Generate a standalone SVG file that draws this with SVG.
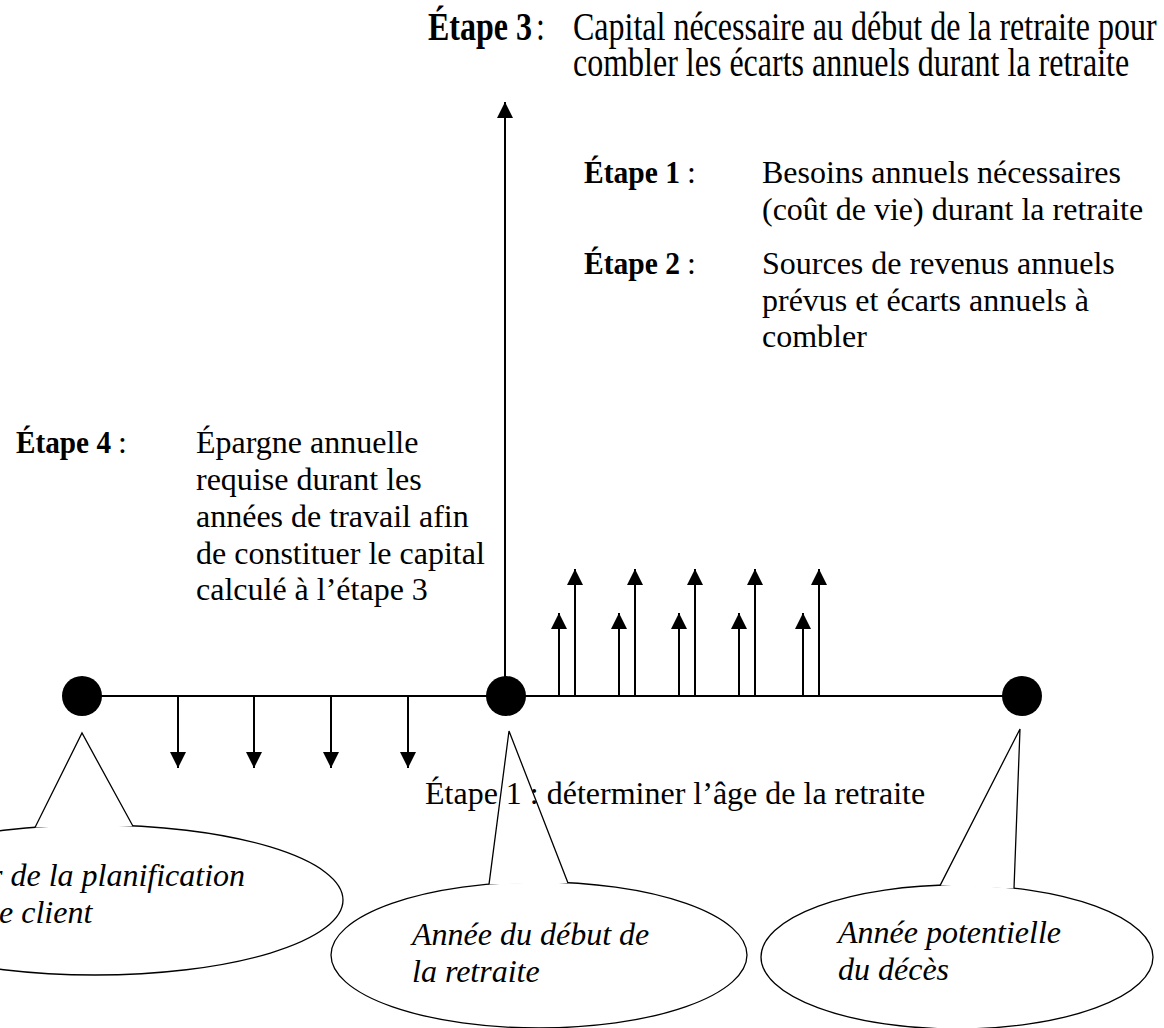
<svg xmlns="http://www.w3.org/2000/svg" width="1164" height="1028" viewBox="0 0 1164 1028">
<defs>
<style>
text{font-family:"Liberation Serif","Times New Roman",serif;font-size:32px;fill:#000}
.b{font-weight:bold}
.i{font-style:italic}
.ln{stroke:#000;stroke-width:2;fill:none}
.co{stroke:#000;stroke-width:1.3;fill:#fff}
.cw{stroke:#000;stroke-width:1.3;fill:#fff;stroke-linejoin:miter}
</style>
<marker id="ah" viewBox="0 0 16 16" refX="16" refY="8" markerWidth="16" markerHeight="16" markerUnits="userSpaceOnUse" orient="auto">
<path d="M0,0 L16,8 L0,16 z" fill="#000"/>
</marker>
</defs>
<rect width="1164" height="1028" fill="#fff"/>

<g id="connectors">
<line class="ln" x1="82" y1="696" x2="1022" y2="696"/>
<line class="ln" x1="505" y1="696" x2="505" y2="102" marker-end="url(#ah)"/>
<line class="ln" x1="178" y1="696" x2="178" y2="768" marker-end="url(#ah)"/>
<line class="ln" x1="254" y1="696" x2="254" y2="768" marker-end="url(#ah)"/>
<line class="ln" x1="331" y1="696" x2="331" y2="768" marker-end="url(#ah)"/>
<line class="ln" x1="408" y1="696" x2="408" y2="768" marker-end="url(#ah)"/>
<line class="ln" x1="559" y1="696" x2="559" y2="613" marker-end="url(#ah)"/>
<line class="ln" x1="575" y1="696" x2="575" y2="569" marker-end="url(#ah)"/>
<line class="ln" x1="619" y1="696" x2="619" y2="613" marker-end="url(#ah)"/>
<line class="ln" x1="635" y1="696" x2="635" y2="569" marker-end="url(#ah)"/>
<line class="ln" x1="679" y1="696" x2="679" y2="613" marker-end="url(#ah)"/>
<line class="ln" x1="695" y1="696" x2="695" y2="569" marker-end="url(#ah)"/>
<line class="ln" x1="739" y1="696" x2="739" y2="613" marker-end="url(#ah)"/>
<line class="ln" x1="755" y1="696" x2="755" y2="569" marker-end="url(#ah)"/>
<line class="ln" x1="803" y1="696" x2="803" y2="613" marker-end="url(#ah)"/>
<line class="ln" x1="819" y1="696" x2="819" y2="569" marker-end="url(#ah)"/>
</g>

<g id="node-debut-planification">
<circle cx="82" cy="696" r="20" fill="#000"/>
</g>
<g id="node-debut-retraite">
<circle cx="506" cy="696" r="20" fill="#000"/>
</g>
<g id="node-deces">
<circle cx="1022" cy="696" r="20" fill="#000"/>
</g>

<g id="etape3">
<g transform="translate(428,40) scale(1,1.25)"><text class="b">Étape 3</text></g>
<g transform="translate(536,40) scale(1,1.25)"><text>:</text></g>
<g transform="translate(573,40) scale(1,1.25)"><text>Capital nécessaire au début de la retraite pour</text></g>
<g transform="translate(573,76) scale(1,1.25)"><text>combler les écarts annuels durant la retraite</text></g>
</g>

<g id="etape1">
<text class="b" x="584" y="183" textLength="96" lengthAdjust="spacingAndGlyphs">Étape 1</text>
<text x="687" y="183">:</text>
<text x="762" y="183">Besoins annuels nécessaires</text>
<text x="762" y="220">(coût de vie) durant la retraite</text>
</g>

<g id="etape2">
<text class="b" x="584" y="274" textLength="96" lengthAdjust="spacingAndGlyphs">Étape 2</text>
<text x="687" y="274">:</text>
<text x="762" y="274">Sources de revenus annuels</text>
<text x="762" y="311">prévus et écarts annuels à</text>
<text x="762" y="347">combler</text>
</g>

<g id="etape4">
<text class="b" x="16" y="453" textLength="95" lengthAdjust="spacingAndGlyphs">Étape 4</text>
<text x="118" y="453">:</text>
<text x="196" y="453">Épargne annuelle</text>
<text x="196" y="490">requise durant les</text>
<text x="196" y="527">années de travail afin</text>
<text x="196" y="564">de constituer le capital</text>
<text x="196" y="600">calculé à l’étape 3</text>
</g>

<g id="callout-planification">
<ellipse class="co" cx="95" cy="900" rx="248" ry="75"/>
<polyline class="cw" points="35,827.5 82,733 133,826.3"/>
<text class="i" x="-10" y="886">r de la planification</text>
<text class="i" x="-1" y="923">e client</text>
</g>

<g id="callout-retraite">
<ellipse class="co" cx="539" cy="955" rx="208" ry="73"/>
<polyline class="cw" points="489,884.4 509,731 568,883" />
<text class="i" x="412" y="945">Année du début de</text>
<text class="i" x="412" y="982">la retraite</text>
</g>

<g id="label-etape1-age">
<text x="425" y="804">Étape 1 : déterminer l’âge de la retraite</text>
</g>

<g id="callout-deces">
<ellipse class="co" cx="957" cy="957" rx="196" ry="72"/>
<polyline class="cw" points="940,885.6 1020,729 1014,888.4"/>
<text class="i" x="838" y="943">Année potentielle</text>
<text class="i" x="838" y="980">du décès</text>
</g>
</svg>
